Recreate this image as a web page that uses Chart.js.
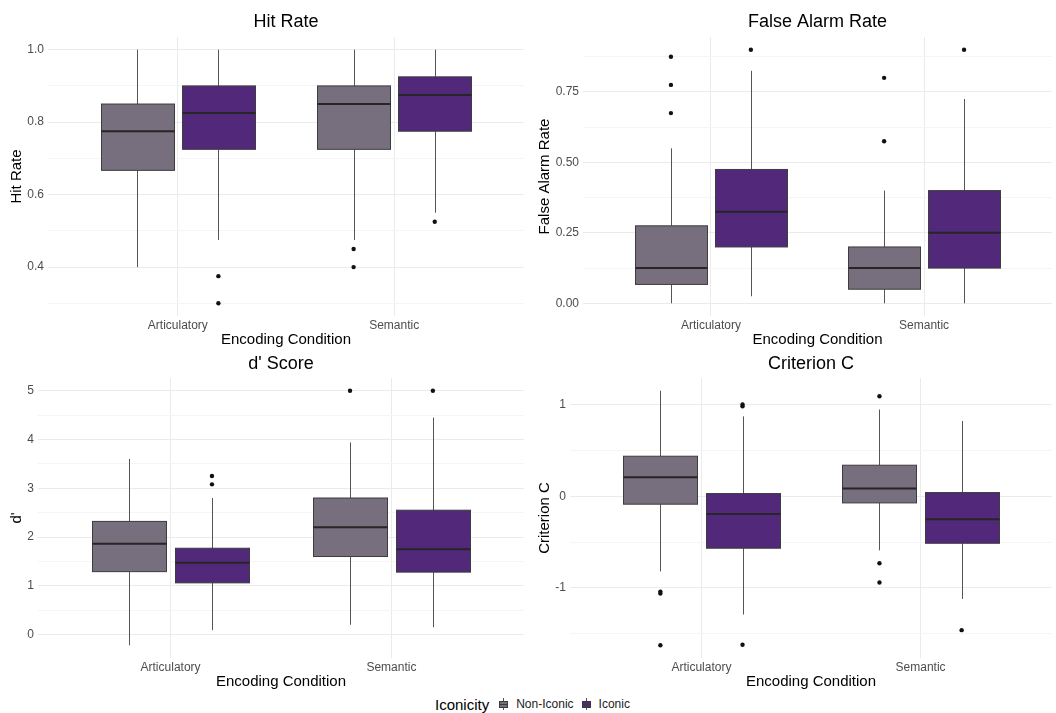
<!DOCTYPE html>
<html>
<head>
<meta charset="utf-8">
<script src="https://cdn.jsdelivr.net/npm/chart.js@4.4.1/dist/chart.umd.min.js"></script>
<style>
  body { margin: 0; background: #fff; width: 1056px; height: 713px; position: relative; overflow: hidden;
         font-family: 'Liberation Sans', Arial, sans-serif; }
  canvas { position: absolute; }
  #legend { position: absolute; left: 435px; top: 694px; height: 20px; display: flex; align-items: center; color: #000; }
  #legend .ltitle { font-size: 15px; margin-right: 10px; }
  #legend .lab { font-size: 12px; color: #222; }
  #legend .key { position: relative; display: inline-block; width: 9px; height: 12px; margin-right: 8px; }
  #legend .key::before { content: ''; position: absolute; left: 4px; top: 0; width: 1px; height: 12px; background: #555; }
  #legend .key::after { content: ''; position: absolute; left: 0; top: 3px; width: 9px; height: 7px; box-sizing: border-box;
                        border: 1px solid #3a3a3a; background: linear-gradient(#3a3a3a, #3a3a3a) center / 100% 1px no-repeat, var(--c); }
</style>
</head>
<body>
<canvas id="hitChart" width="528" height="350" style="left:0;top:0"></canvas>
<canvas id="faChart" width="528" height="350" style="left:528px;top:0"></canvas>
<canvas id="dChart" width="528" height="342" style="left:0;top:350px"></canvas>
<canvas id="cChart" width="528" height="342" style="left:528px;top:350px"></canvas>
<div id="legend">
  <span class="ltitle">Iconicity</span>
  <span class="key" style="--c:#776e7e"></span><span class="lab" style="margin-right:8px">Non-Iconic</span>
  <span class="key" style="--c:#52287a"></span><span class="lab">Iconic</span>
</div>
<script>
var categories = ['Articulatory', 'Semantic'];
var groups = ['Non-Iconic', 'Iconic'];
var groupColors = ['#776e7e', '#52287a'];

// box stats per category: [lower whisker, Q1, median, Q3, upper whisker]
var hitNonIconic = [[0.40, 0.667, 0.775, 0.85, 1.0], [0.475, 0.725, 0.85, 0.90, 1.0]];
var hitIconic = [[0.475, 0.725, 0.825, 0.90, 1.0], [0.55, 0.775, 0.875, 0.925, 1.0]];
var hitOutNonIconic = [[], [0.45, 0.40]];
var hitOutIconic = [[0.375, 0.30], [0.525]];
var hitTicks = [0.4, 0.6, 0.8, 1.0];
var hitMinor = [0.3, 0.5, 0.7, 0.9];

var faNonIconic = [[0.0, 0.067, 0.125, 0.275, 0.55], [0.0, 0.05, 0.125, 0.20, 0.40]];
var faIconic = [[0.025, 0.20, 0.325, 0.475, 0.825], [0.0, 0.125, 0.25, 0.40, 0.725]];
var faOutNonIconic = [[0.675, 0.775, 0.875], [0.575, 0.80]];
var faOutIconic = [[0.90], [0.90]];
var faTicks = [0, 0.25, 0.5, 0.75];
var faMinor = [0.125, 0.375, 0.625, 0.875];

var dNonIconic = [[-0.22, 1.29, 1.86, 2.32, 3.60], [0.20, 1.60, 2.20, 2.80, 3.94]];
var dIconic = [[0.09, 1.06, 1.47, 1.77, 2.80], [0.15, 1.28, 1.75, 2.55, 4.45]];
var dOutNonIconic = [[], [5.0]];
var dOutIconic = [[3.08, 3.25], [5.0]];
var dTicks = [0, 1, 2, 3, 4, 5];
var dMinor = [0.5, 1.5, 2.5, 3.5, 4.5];

var cNonIconic = [[-0.82, -0.087, 0.207, 0.436, 1.15], [-0.59, -0.073, 0.084, 0.338, 0.945]];
var cIconic = [[-1.29, -0.567, -0.193, 0.029, 0.87], [-1.12, -0.513, -0.25, 0.04, 0.82]];
var cOutNonIconic = [[-1.04, -1.06, -1.625], [1.09, -0.73, -0.94]];
var cOutIconic = [[0.98, 1.0, -1.62], [-1.46]];
var cTicks = [-1, 0, 1];
var cMinor = [-1.5, -0.5, 0.5];

Chart.defaults.font.family = "'Liberation Sans', Arial, sans-serif";
Chart.defaults.animation = false;

var dodge = 0.1875;   // half of dodge width 0.75 / 2
var halfBox = 0.16875;

function near(list, v) {
  return list.some(function (t) { return Math.abs(t - v) < 1e-9; });
}

function boxPlugin(series) {
  return {
    id: 'boxes',
    beforeDatasetsDraw: function (chart) {
      var ctx = chart.ctx;
      var xs = chart.scales.x, ys = chart.scales.y;
      ctx.save();
      series.forEach(function (stats, g) {
        stats.forEach(function (s, i) {
          var cx = i + 1 + (g === 0 ? -dodge : dodge);
          var x0 = Math.round(xs.getPixelForValue(cx - halfBox)) + 0.5;
          var x1 = Math.round(xs.getPixelForValue(cx + halfBox)) + 0.5;
          var xm = Math.round(xs.getPixelForValue(cx)) + 0.5;
          var yLo = ys.getPixelForValue(s[0]), yQ1 = ys.getPixelForValue(s[1]);
          var yMed = ys.getPixelForValue(s[2]), yQ3 = ys.getPixelForValue(s[3]);
          var yHi = ys.getPixelForValue(s[4]);
          // whiskers
          ctx.strokeStyle = '#555555';
          ctx.lineWidth = 1;
          ctx.beginPath();
          ctx.moveTo(xm, yHi); ctx.lineTo(xm, yQ3);
          ctx.moveTo(xm, yQ1); ctx.lineTo(xm, yLo);
          ctx.stroke();
          // box
          ctx.fillStyle = groupColors[g];
          ctx.fillRect(x0, yQ3, x1 - x0, yQ1 - yQ3);
          ctx.strokeStyle = '#3d3d3d';
          ctx.strokeRect(x0, yQ3, x1 - x0, yQ1 - yQ3);
          // median
          ctx.strokeStyle = '#262626';
          ctx.lineWidth = 2;
          ctx.beginPath();
          ctx.moveTo(x0, yMed); ctx.lineTo(x1, yMed);
          ctx.stroke();
        });
      });
      ctx.restore();
    }
  };
}

function outlierPoints(out, g) {
  var pts = [];
  out.forEach(function (vals, i) {
    vals.forEach(function (v) {
      pts.push({ x: i + 1 + (g === 0 ? -dodge : dodge), y: v });
    });
  });
  return pts;
}

function drawPanel(id, title, yTitle, nonIconic, iconic, outNon, outIcon, majors, minors, decimals, geom) {
  var canvas = document.getElementById(id);
  var W = canvas.width, H = canvas.height;

  // y range from the data with 5% expansion
  var all = [];
  nonIconic.concat(iconic).forEach(function (s) { all = all.concat(s); });
  outNon.concat(outIcon).forEach(function (o) { all = all.concat(o); });
  var lo = Math.min.apply(null, all), hi = Math.max.apply(null, all);
  var pad = (hi - lo) * 0.05;

  new Chart(canvas.getContext('2d'), {
    type: 'scatter',
    data: {
      datasets: [
        { label: groups[0], data: outlierPoints(outNon, 0), pointRadius: 2.2, pointBackgroundColor: '#111', pointBorderWidth: 0 },
        { label: groups[1], data: outlierPoints(outIcon, 1), pointRadius: 2.2, pointBackgroundColor: '#111', pointBorderWidth: 0 }
      ]
    },
    options: {
      responsive: false,
      events: [],
      layout: { padding: { left: 0, right: W - geom.right, top: 0, bottom: 0 } },
      plugins: {
        legend: { display: false },
        tooltip: { enabled: false },
        title: {
          display: true, text: title, color: '#000', fullSize: false,
          font: { size: 18, weight: 'normal', lineHeight: 1.2 },
          padding: { top: geom.titleY - 10.8, bottom: geom.top - geom.titleY - 10.8 }
        }
      },
      scales: {
        x: {
          type: 'linear', min: 0.4, max: 2.6, bounds: 'data',
          afterBuildTicks: function (axis) { axis.ticks = [{ value: 1 }, { value: 2 }]; },
          afterFit: function (axis) { axis.height = H - geom.bottom; },
          ticks: {
            padding: 2, color: '#4d4d4d', font: { size: 12 },
            callback: function (v) { return categories[Math.round(v) - 1]; }
          },
          grid: { color: '#ebebeb', lineWidth: 1, drawTicks: false },
          border: { display: false },
          title: { display: true, text: 'Encoding Condition', color: '#000', font: { size: 15 }, padding: { top: 0, bottom: 1 } }
        },
        y: {
          min: lo - pad, max: hi + pad, bounds: 'data',
          afterBuildTicks: function (axis) {
            axis.ticks = majors.concat(minors).sort(function (a, b) { return a - b; })
              .map(function (v) { return { value: v }; });
          },
          afterFit: function (axis) { axis.width = geom.left; },
          ticks: {
            padding: 4, color: '#4d4d4d', font: { size: 12 },
            callback: function (v) { return near(majors, v) ? v.toFixed(decimals) : ''; }
          },
          grid: {
            drawTicks: false, lineWidth: 1,
            color: function (c) { return c.tick && near(majors, c.tick.value) ? '#ebebeb' : '#f5f5f5'; }
          },
          border: { display: false },
          title: { display: true, text: yTitle, color: '#000', font: { size: 15 }, padding: { top: 8, bottom: 0 } }
        }
      }
    },
    plugins: [boxPlugin([nonIconic, iconic])]
  });
}

drawPanel('hitChart', 'Hit Rate', 'Hit Rate', hitNonIconic, hitIconic, hitOutNonIconic, hitOutIconic,
  hitTicks, hitMinor, 1, { left: 48, right: 525, top: 37, bottom: 316, titleY: 22 });
drawPanel('faChart', 'False Alarm Rate', 'False Alarm Rate', faNonIconic, faIconic, faOutNonIconic, faOutIconic,
  faTicks, faMinor, 2, { left: 55, right: 527, top: 37, bottom: 316, titleY: 22 });
drawPanel('dChart', "d' Score", "d'", dNonIconic, dIconic, dOutNonIconic, dOutIconic,
  dTicks, dMinor, 0, { left: 38, right: 526, top: 28, bottom: 308, titleY: 14 });
drawPanel('cChart', 'Criterion C', 'Criterion C', cNonIconic, cIconic, cOutNonIconic, cOutIconic,
  cTicks, cMinor, 0, { left: 42, right: 527, top: 28, bottom: 308, titleY: 14 });
</script>
</body>
</html>
